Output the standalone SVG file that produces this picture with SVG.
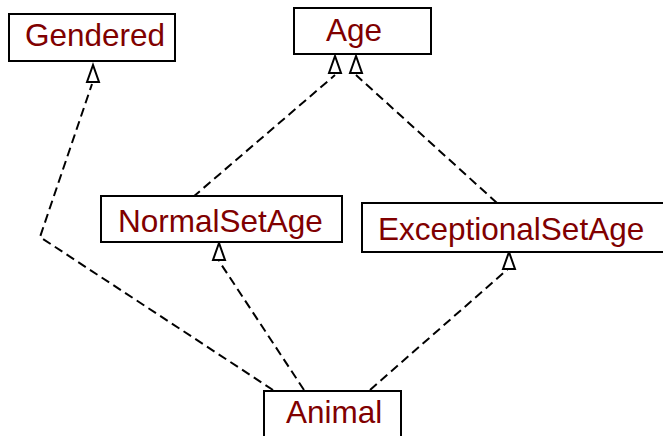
<svg xmlns="http://www.w3.org/2000/svg" xmlns:xlink="http://www.w3.org/1999/xlink" width="663" height="436" viewBox="0 0 663 436">
<style>
.box{fill:#fff;stroke:#000;stroke-width:2}
.lbl{font-family:"Liberation Sans",Arial,sans-serif;font-size:31.5px;fill:#800000}
.dep{fill:none;stroke:#000;stroke-width:2;stroke-dasharray:9,5}
.tri{fill:#fff;stroke:#000;stroke-width:2;stroke-linejoin:miter}
</style>
<defs>
<polygon id="tri" class="tri" points="0,0 -6,17 6,17"/>
</defs>
<rect width="663" height="436" fill="#fff"/>
<g id="connectors">
<path class="dep" d="M273,390 L40,237 L92,84"/>
<path class="dep" d="M193,197 L335,75"/>
<path class="dep" d="M497,203 L356,75"/>
<path class="dep" d="M304,390 L219,261"/>
<path class="dep" d="M370,390 L509,268"/>
<use xlink:href="#tri" x="93" y="65"/>
<use xlink:href="#tri" x="335" y="56"/>
<use xlink:href="#tri" x="356" y="56"/>
<use xlink:href="#tri" x="219" y="243"/>
<use xlink:href="#tri" x="509" y="252"/>
</g>
<g id="Gendered">
<rect class="box" x="9" y="14" width="166" height="47"/>
<text class="lbl" x="25" y="46">Gendered</text>
</g>
<g id="Age">
<rect class="box" x="294" y="8" width="137" height="46"/>
<text class="lbl" x="326" y="41">Age</text>
</g>
<g id="NormalSetAge">
<rect class="box" x="101" y="196" width="241" height="46"/>
<text class="lbl" x="118" y="232">NormalSetAge</text>
</g>
<g id="ExceptionalSetAge">
<rect class="box" x="362" y="203" width="310" height="49"/>
<text class="lbl" x="378" y="240">ExceptionalSetAge</text>
</g>
<g id="Animal">
<rect class="box" x="264" y="391" width="137" height="55"/>
<text class="lbl" x="286" y="423">Animal</text>
</g>
</svg>
